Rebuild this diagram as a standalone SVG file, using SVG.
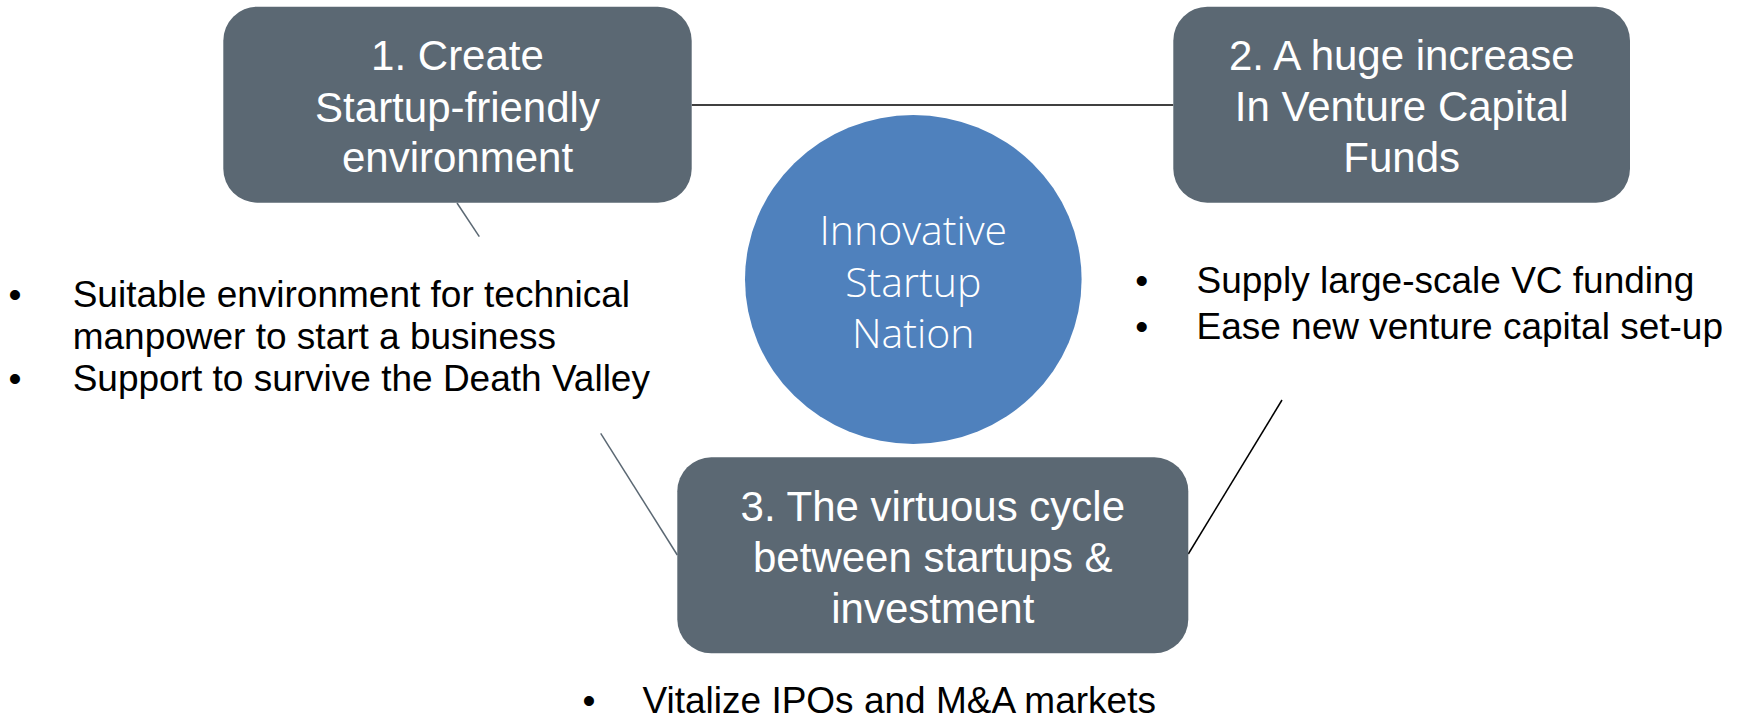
<svg xmlns="http://www.w3.org/2000/svg" width="1743" height="721" viewBox="0 0 1743 721">
  <style>
    .box { fill: #5b6873; }
    .box-text { font-family: "Liberation Sans", Arial, sans-serif; font-size: 42px; fill: #ffffff; text-anchor: middle; }
    .hub { fill: #4f81bd; }
    .hub-text { font-family: "Open Sans", "Noto Sans", sans-serif; font-weight: 300; font-size: 41px; fill: #ffffff; text-anchor: middle; }
    .note { font-family: "Liberation Sans", Arial, sans-serif; font-size: 37px; fill: #000000; }
    .dot { text-anchor: middle; }
    .link-dark { stroke: #000000; stroke-width: 1.5; fill: none; }
    .link-slate { stroke: #5b6873; stroke-width: 1.5; fill: none; }
  </style>

  <rect width="1743" height="721" fill="#ffffff"/>

  <!-- connectors -->
  <g id="connectors">
    <line class="link-dark" x1="691.7" y1="105" x2="1173.3" y2="105"/>
    <line class="link-slate" x1="457" y1="203" x2="479.3" y2="236.7"/>
    <line class="link-slate" x1="600.7" y1="433.3" x2="677.3" y2="555"/>
    <line class="link-dark" x1="1188.3" y1="554" x2="1282" y2="400"/>
  </g>

  <!-- centre hub -->
  <g id="hub">
    <ellipse class="hub" cx="913.3" cy="279.5" rx="168.3" ry="164.5"/>
    <text class="hub-text" x="913.3" y="245">Innovative</text>
    <text class="hub-text" x="913.3" y="296.7">Startup</text>
    <text class="hub-text" x="913.3" y="348.3">Nation</text>
  </g>

  <!-- step 1 -->
  <g id="step1">
    <rect class="box" x="223.3" y="6.7" width="468.4" height="196" rx="34" ry="34"/>
    <text class="box-text" x="457.5" y="70">1. Create</text>
    <text class="box-text" x="457.5" y="121.5">Startup-friendly</text>
    <text class="box-text" x="457.5" y="172">environment</text>
  </g>

  <!-- step 2 -->
  <g id="step2">
    <rect class="box" x="1173.3" y="6.7" width="456.7" height="196" rx="34" ry="34"/>
    <text class="box-text" x="1401.7" y="70">2. A huge increase</text>
    <text class="box-text" x="1401.7" y="121">In Venture Capital</text>
    <text class="box-text" x="1401.7" y="172">Funds</text>
  </g>

  <!-- step 3 -->
  <g id="step3">
    <rect class="box" x="677.3" y="457.3" width="511" height="196" rx="34" ry="34"/>
    <text class="box-text" x="932.8" y="520.5">3. The virtuous cycle</text>
    <text class="box-text" x="932.8" y="572">between startups &amp;</text>
    <text class="box-text" x="932.8" y="622.5">investment</text>
  </g>

  <!-- step 1 notes -->
  <g id="notes1">
    <text class="note dot" x="15" y="307">•</text>
    <text class="note" x="72.7" y="307">Suitable environment for technical</text>
    <text class="note" x="72.7" y="349">manpower to start a business</text>
    <text class="note dot" x="15" y="391">•</text>
    <text class="note" x="72.7" y="391">Support to survive the Death Valley</text>
  </g>

  <!-- step 2 notes -->
  <g id="notes2">
    <text class="note dot" x="1141.7" y="292.5">•</text>
    <text class="note" x="1196.5" y="292.5">Supply large-scale VC funding</text>
    <text class="note dot" x="1141.7" y="339">•</text>
    <text class="note" x="1196.5" y="339">Ease new venture capital set-up</text>
  </g>

  <!-- step 3 notes -->
  <g id="notes3">
    <text class="note dot" x="589" y="713">•</text>
    <text class="note" x="642.5" y="713">Vitalize IPOs and M&amp;A markets</text>
  </g>
</svg>
